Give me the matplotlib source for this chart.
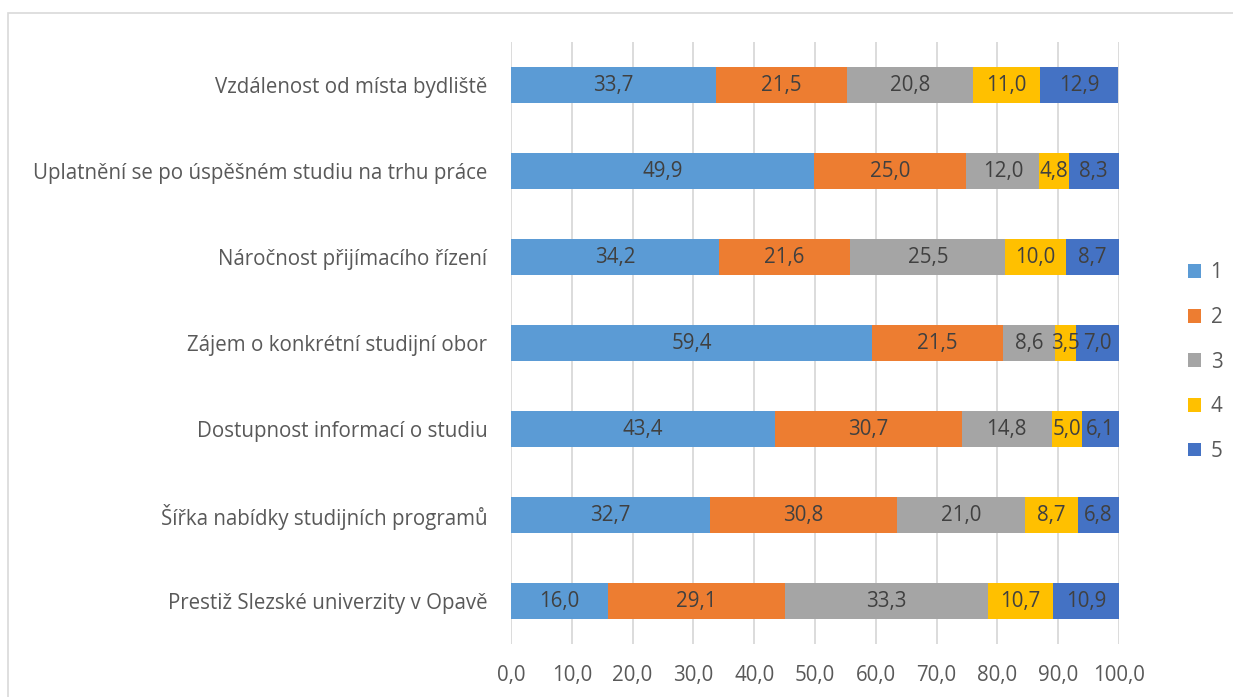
import matplotlib
matplotlib.use("Agg")
import matplotlib.pyplot as plt
from matplotlib.patches import Rectangle

categories = [
    "Vzdálenost od místa bydliště",
    "Uplatnění se po úspěšném studiu na trhu práce",
    "Náročnost přijímacího řízení",
    "Zájem o konkrétní studijní obor",
    "Dostupnost informací o studiu",
    "Šířka nabídky studijních programů",
    "Prestiž Slezské univerzity v Opavě",
]
series_names = ["1", "2", "3", "4", "5"]
s1 = [33.7, 49.9, 34.2, 59.4, 43.4, 32.7, 16.0]
s2 = [21.5, 25.0, 21.6, 21.5, 30.7, 30.8, 29.1]
s3 = [20.8, 12.0, 25.5, 8.6, 14.8, 21.0, 33.3]
s4 = [11.0, 4.8, 10.0, 3.5, 5.0, 8.7, 10.7]
s5 = [12.9, 8.3, 8.7, 7.0, 6.1, 6.8, 10.9]
xticks = [0, 10, 20, 30, 40, 50, 60, 70, 80, 90, 100]
colors = ["#5B9BD5", "#ED7D31", "#A5A5A5", "#FFC000", "#4472C4"]

FONT = "Open Sans"
plt.rcParams["font.family"] = [FONT, "DejaVu Sans"]
TXT = "#595959"
FS = 14.8

fig = plt.figure(figsize=(12.33, 6.97), dpi=100)
fig.patches.append(Rectangle((8 / 1233, -0.01), 1.2, 1 - 13 / 697 + 0.01,
                             transform=fig.transFigure, fill=False,
                             edgecolor="#D9D9D9", linewidth=1.2))
ax = fig.add_axes([511 / 1233, 1 - 644 / 697, (1119 - 511) / 1233, (644 - 42) / 697])

ypos = list(range(len(categories)))
left = [0.0] * len(categories)
for name, vals, c in zip(series_names, [s1, s2, s3, s4, s5], colors):
    bars = ax.barh(ypos, vals, left=left, height=0.41, color=c, label=name, zorder=2)
    ax.bar_label(bars, labels=[f"{v:.1f}".replace(".", ",") for v in vals],
                 label_type="center", color="#404040", fontsize=FS)
    left = [l + v for l, v in zip(left, vals)]

ax.set_ylim(len(categories) - 0.5, -0.5)
ax.set_xlim(0, 100)
ax.set_xticks(xticks)
ax.set_xticklabels([f"{v:.1f}".replace(".", ",") for v in xticks], fontsize=FS, color=TXT)
ax.set_yticks(ypos)
ax.set_yticklabels(categories, fontsize=FS, color=TXT)
ax.tick_params(axis="both", length=0)
ax.tick_params(axis="x", pad=15)
ax.tick_params(axis="y", pad=17)
ax.grid(axis="x", color="#D9D9D9", linewidth=1.3, zorder=0)
for s in ax.spines.values():
    s.set_visible(False)

leg = fig.legend(loc="center left", bbox_to_anchor=(1188 / 1233, 1 - 362 / 697),
                 borderaxespad=0, borderpad=0,
                 frameon=False, fontsize=FS, labelcolor=TXT,
                 handlelength=0.65, handleheight=0.65, handletextpad=0.45,
                 labelspacing=1.15)

fig.savefig("out.png", dpi=100)
